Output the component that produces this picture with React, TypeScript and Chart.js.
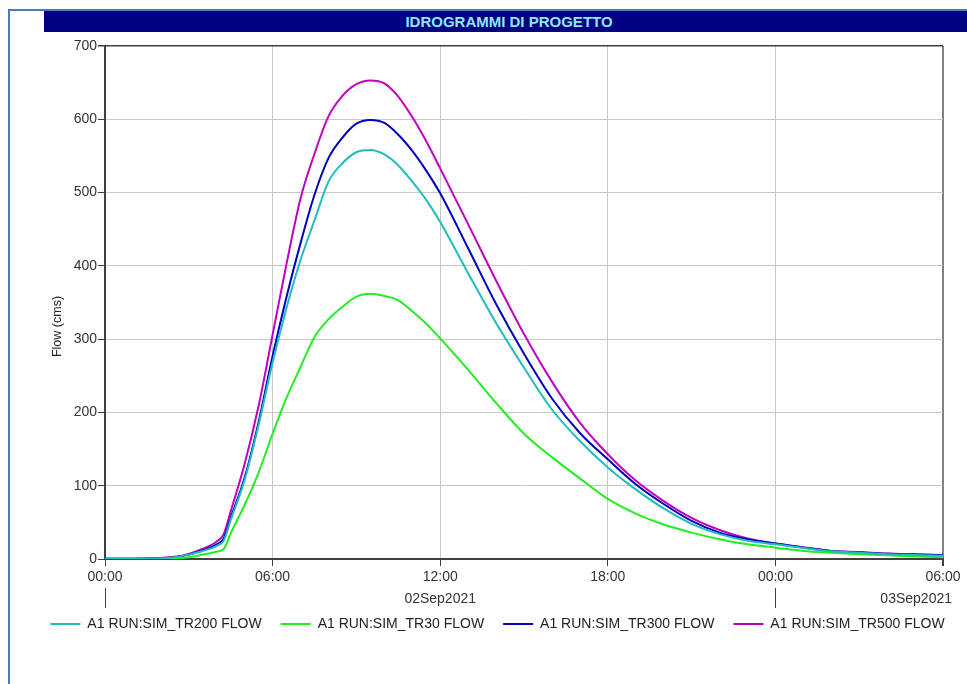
import React, { useEffect, useRef } from "react";
import { Chart, registerables } from "chart.js";

Chart.register(...registerables);

const chartTitle = "IDROGRAMMI DI PROGETTO";
const yAxisTitle = "Flow (cms)";

// hours since 02Sep2021 00:00
const hours = [0, 1, 2, 2.5, 3, 3.5, 4, 4.25, 4.5, 5, 5.5, 6, 6.5, 7, 7.5, 8, 8.5, 9, 9.5, 10, 10.5, 11, 11.5, 12,
  13, 14, 15, 16, 17, 18, 19, 20, 21, 22, 23, 24, 25, 26, 27, 28, 29, 30];

const tr200 = [0.5, 0.5, 1, 2.5, 6, 11, 18, 25, 53, 108, 183, 268, 343, 408, 462, 515, 540, 555, 558, 552, 537, 515, 490, 460,
  390, 322, 261, 204, 161, 125, 95, 69, 48, 34, 25, 20, 15, 10.5, 8.5, 6.5, 5.5, 4.5];
const tr30 = [0, 0, 0.3, 0.8, 2.5, 6, 10, 13.6, 35, 74, 118, 171, 220, 262, 303, 327, 344, 358, 362, 359, 353, 338, 321, 301,
  258, 213, 171, 139, 110, 82, 62, 47, 36, 27, 20, 15.5, 11, 8.5, 6.5, 5, 3.5, 2.5];
const tr300 = [0.5, 0.5, 1.2, 2.5, 6, 12, 20, 28, 56, 111, 187, 277, 358, 431, 497, 547, 575, 594, 599, 595, 579, 557, 530, 499,
  424, 348, 280, 219, 172, 136, 102, 75, 52, 36, 27, 21, 15.5, 11, 9, 7, 6, 5];
const tr500 = [0.5, 0.5, 1.5, 3, 7, 14, 24, 34, 65, 130, 209, 306, 403, 492, 553, 604, 632, 648, 653, 649, 631, 603, 570, 533,
  457, 380, 307, 242, 186, 143, 107, 79, 56, 39.5, 28, 21, 16, 11, 9.5, 7.5, 6.5, 5.5];

const seriesNames = ["A1 RUN:SIM_TR200 FLOW", "A1 RUN:SIM_TR30 FLOW", "A1 RUN:SIM_TR300 FLOW", "A1 RUN:SIM_TR500 FLOW"];
const seriesColors = ["#1fbdbd", "#22ee22", "#0000c0", "#c000c0"];

const xTickLabels = ["00:00", "06:00", "12:00", "18:00", "00:00", "06:00"];
const dayLabels = ["02Sep2021", "03Sep2021"];
const dayStarts = [0, 24];

const FONT = "'Liberation Sans', Arial, sans-serif";

export default function App() {
  const ref = useRef<HTMLCanvasElement>(null);

  useEffect(() => {
    const canvas = ref.current;
    if (!canvas) return;
    const seriesValues = [tr200, tr30, tr300, tr500];

    const decorPlugin = {
      id: "decor",
      afterDraw(chart: any) {
        const ctx = chart.ctx;
        const xs = chart.scales.x;
        const area = chart.chartArea;
        ctx.save();
        // y axis title
        ctx.fillStyle = "#222";
        ctx.font = "12.5px " + FONT;
        ctx.textAlign = "center";
        ctx.textBaseline = "middle";
        ctx.translate(58, (area.top + area.bottom) / 2 + 24);
        ctx.rotate(-Math.PI / 2);
        ctx.fillText(yAxisTitle, 0, 0);
        ctx.restore();

        // day separators and date labels
        ctx.save();
        ctx.strokeStyle = "#404040";
        ctx.lineWidth = 1;
        ctx.font = "14px " + FONT;
        ctx.fillStyle = "#333";
        ctx.textBaseline = "middle";
        ctx.textAlign = "center";
        const base = xs.top;
        dayStarts.forEach((d, i) => {
          const px = Math.round(xs.getPixelForValue(d)) + 0.5;
          ctx.beginPath();
          ctx.moveTo(px, base + 29);
          ctx.lineTo(px, base + 49);
          ctx.stroke();
          const w = ctx.measureText(dayLabels[i]).width;
          let cx = xs.getPixelForValue(d + 12);
          const maxRight = chart.width - 15;
          if (cx + w / 2 > maxRight) cx = maxRight - w / 2;
          ctx.fillText(dayLabels[i], cx, base + 40);
        });
        ctx.restore();
      },
    };

    const chart = new Chart(canvas, {
      type: "line",
      data: {
        datasets: seriesNames.map((name, k) => ({
          label: name,
          data: hours.map((h, i) => ({ x: h, y: seriesValues[k][i] })),
          borderColor: seriesColors[k],
          backgroundColor: seriesColors[k],
          borderWidth: 2,
          pointRadius: 0,
          fill: false,
          cubicInterpolationMode: "monotone" as const,
        })),
      },
      options: {
        animation: false,
        responsive: false,
        devicePixelRatio: 1,
        layout: { padding: { left: 28, right: 0, top: 46, bottom: 43 } },
        plugins: {
          title: { display: false },
          tooltip: { enabled: false },
          legend: {
            display: true,
            position: "bottom",
            labels: {
              boxWidth: 30,
              boxHeight: 2,
              padding: 19,
              color: "#222",
              font: { family: FONT, size: 14 },
              generateLabels: (c: any) =>
                Chart.defaults.plugins.legend.labels
                  .generateLabels(c)
                  .map((l: any) => ({ ...l, fillStyle: l.strokeStyle, lineWidth: 0 })),
            },
          },
        },
        scales: {
          x: {
            type: "linear",
            min: 0,
            max: 30,
            ticks: {
              stepSize: 6,
              autoSkip: false,
              maxRotation: 0,
              padding: 3,
              color: "#333",
              font: { family: FONT, size: 14 },
              callback: (_v: any, i: number) => xTickLabels[i],
            },
            grid: {
              color: (c: any) => (c.tick && c.tick.value === 30 ? "#808080" : "#c8c8c8"),
              lineWidth: (c: any) => (c.tick && c.tick.value === 30 ? 2 : 1),
              tickColor: "#404040",
              tickLength: 7,
            },
            border: { color: "#404040", width: 2 },
            afterFit: (s: any) => {
              s.height = 39;
            },
          },
          y: {
            type: "linear",
            min: 0,
            max: 700,
            ticks: {
              stepSize: 100,
              padding: 1,
              color: "#333",
              font: { family: FONT, size: 14 },
            },
            grid: {
              color: (c: any) => (c.tick && c.tick.value === 700 ? "#404040" : "#c8c8c8"),
              lineWidth: (c: any) => (c.tick && c.tick.value === 700 ? 1.5 : 1),
              tickColor: "#404040",
              tickLength: 7,
            },
            border: { color: "#404040", width: 2 },
            afterFit: (s: any) => {
              s.width = 77;
            },
          },
          yR: {
            type: "linear",
            position: "right",
            min: 0,
            max: 1,
            grid: { display: false },
            ticks: { display: false },
            border: { display: false },
            afterFit: (s: any) => {
              s.width = 24;
            },
          },
        },
      },
      plugins: [decorPlugin],
    } as any);

    return () => chart.destroy();
  }, []);

  return (
    <div style={{ position: "fixed", left: 0, top: 0, width: 967, height: 684, overflow: "hidden", background: "#fff" }}>
      <div
        style={{
          position: "absolute",
          left: 8,
          top: 9,
          width: 1100,
          height: 1000,
          borderLeft: "2px solid #4a7ebb",
          borderTop: "2px solid #4a7ebb",
        }}
      />
      <div
        style={{
          position: "absolute",
          left: 44,
          top: 11,
          width: 930,
          height: 21,
          background: "#000080",
          color: "#8ee6ff",
          font: "bold 15px " + FONT,
          lineHeight: "21px",
          textAlign: "center",
        }}
      >
        {chartTitle}
      </div>
      <canvas ref={ref} width={967} height={684} style={{ position: "absolute", left: 0, top: 0 }} />
    </div>
  );
}
